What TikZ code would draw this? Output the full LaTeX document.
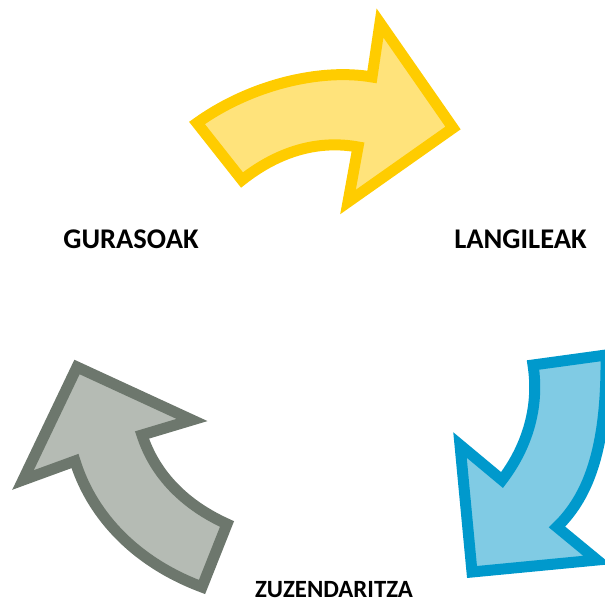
\documentclass[tikz,border=0pt]{standalone}
\usepackage{fontspec}
\setmainfont{Carlito}
\usepackage{tikz}
\definecolor{sunline}{HTML}{FFCC00}
\definecolor{sunfill}{HTML}{FFE37B}
\definecolor{seaLine}{HTML}{0099CC}
\definecolor{seaFill}{HTML}{80CBE4}
\definecolor{stoneLine}{HTML}{6D776D}
\definecolor{stoneFill}{HTML}{B5BBB4}

\begin{document}
\begin{tikzpicture}[x=1pt,y=-1pt,line join=miter,
    arrowshape/.style={line width=11pt},
    label_big/.style={font=\bfseries\fontsize{28.5}{30}\selectfont,anchor=base,inner sep=0pt},
    label_small/.style={font=\bfseries\fontsize{24.8}{26}\selectfont,anchor=base,inner sep=0pt}]
  \useasboundingbox (0,0) rectangle (605,601);
  \clip (0,0) rectangle (605,601);
  % yellow arrow, top
  \draw[arrowshape,draw=sunline,fill=sunfill]
    (197,123) -- (242,180) .. controls (280,150) and (320,140) .. (358,147)
    -- (348,202) -- (453,128) -- (380,23) -- (372,77)
    .. controls (320,68) and (250,85) .. cycle;
  % blue arrow, right
  \draw[arrowshape,draw=seaLine,fill=seaFill]
    (533,365) -- (606,355) .. controls (607,445) and (590,495) .. (557,527)
    -- (597,560) -- (472,572) -- (460,445) -- (502,480)
    .. controls (525,450) and (540,410) .. cycle;
  % grey arrow, left
  \draw[arrowshape,draw=stoneLine,fill=stoneFill]
    (202,587) -- (227,524) .. controls (185,505) and (155,475) .. (142,435)
    -- (192,420) -- (77,367) -- (23,480) -- (75,461)
    .. controls (90,510) and (130,560) .. cycle;
  \node[label_big] (gurasoak) at (131,249) {GURASOAK};
  \node[label_big] (langileak) at (520.5,249) {LANGILEAK};
  \node[label_small] (zuzendaritza) at (334,597.5) {ZUZENDARITZA};
\end{tikzpicture}
\end{document}
